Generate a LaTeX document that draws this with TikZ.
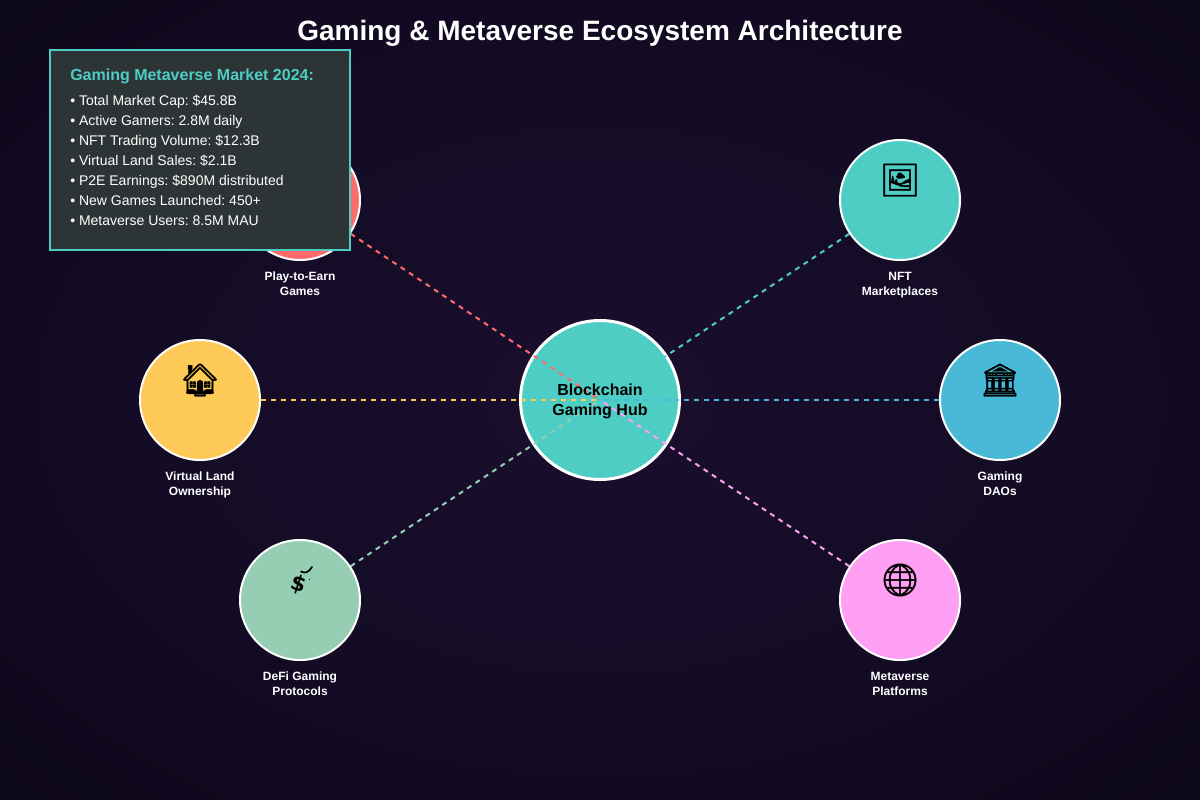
\documentclass[tikz,border=0pt]{standalone}
\usepackage{fontspec}
\setmainfont{Liberation Sans}
\newfontfamily\emojifont[FakeBold=1.5]{Noto Emoji}
\newfontfamily\dollarfont{DejaVu Sans Bold}
\usetikzlibrary{positioning}
\definecolor{mvbgin}{HTML}{1A0F2E}
\definecolor{mvbgout}{HTML}{05020E}
\definecolor{mvteal}{HTML}{4ECDC4}
\definecolor{mvred}{HTML}{FF6B6B}
\definecolor{mvyellow}{HTML}{FECA57}
\definecolor{mvblue}{HTML}{48B9D6}
\definecolor{mvgreen}{HTML}{96CEB4}
\definecolor{mvpink}{HTML}{FF9FF3}
\definecolor{mvpanel}{HTML}{2D3436}
\pgfdeclareradialshading{mvglow}{\pgfpoint{0bp}{0bp}}{color(0bp)=(mvbgin); color(25bp)=(mvbgin!62!mvbgout); color(50bp)=(mvbgout); color(100bp)=(mvbgout)}

\begin{document}
\begin{tikzpicture}[x=0.75pt, y=-0.75pt,
  hubnode/.style={circle, draw=white, line width=2.25pt, fill=mvteal, minimum size=119.25pt},
  ecosys/.style={circle, draw=white, line width=1.5pt, minimum size=90pt},
  icon/.style={font=\emojifont\fontsize{24}{24}\selectfont, text=black, inner sep=0pt},
  caption/.style={font=\fontsize{9}{11.25}\selectfont\bfseries, text=white, align=center, inner sep=0pt},
  link/.style={line width=1.5pt, dash pattern=on 3.75pt off 3.75pt},
]
  \path[use as bounding box, shading=mvglow] (0,0) rectangle (1200,800);

  \node[font=\fontsize{21}{25}\selectfont\bfseries, text=white] (title) at (600,33) {Gaming \& Metaverse Ecosystem Architecture};

  \node[hubnode] (hub) at (600,400) {};

  \node[ecosys, fill=mvred] (p2e) at (300,200) {};
  \node[ecosys, fill=mvteal] (nft) at (900,200) {};
  \node[ecosys, fill=mvyellow] (land) at (200,400) {};
  \node[ecosys, fill=mvblue] (dao) at (1000,400) {};
  \node[ecosys, fill=mvgreen] (defi) at (300,600) {};
  \node[ecosys, fill=mvpink] (meta) at (900,600) {};

  \draw[link, mvred] (p2e) -- (hub.center);
  \draw[link, mvteal] (nft) -- (hub.center);
  \draw[link, mvyellow] (land) -- (hub.center);
  \draw[link, mvblue] (dao) -- (hub.center);
  \draw[link, mvgreen] (defi) -- (hub.center);
  \draw[link, mvpink] (meta) -- (hub.center);

  \node[font=\fontsize{12}{15}\selectfont\bfseries, text=black, align=center] (hubname) at (600,401) {Blockchain\\Gaming Hub};

  \node[icon] (nfticon) at (900,180) {🖼};
  \node[icon] (landicon) at (200,380) {🏠};
  \node[icon] (daoicon) at (1000,380) {🏛};
  \node[font=\dollarfont\fontsize{16}{16}\selectfont, text=black, inner sep=0pt, rotate=-18] (deficon) at (299,585) {\$};
  \draw[line width=1.3pt, line cap=round] (301,571.5) .. controls (305,574) and (309,572) .. (312,567);
  \fill (309.5,579.5) circle (0.7);
  \node[icon] (metaicon) at (900,580) {🌐};

  \node[caption, below=8.25pt of p2e] (p2ename) {Play-to-Earn\\Games};
  \node[caption, below=8.25pt of nft] (nftname) {NFT\\Marketplaces};
  \node[caption, below=8.25pt of land] (landname) {Virtual Land\\Ownership};
  \node[caption, below=8.25pt of dao] (daoname) {Gaming\\DAOs};
  \node[caption, below=8.25pt of defi] (definame) {DeFi Gaming\\Protocols};
  \node[caption, below=8.25pt of meta] (metaname) {Metaverse\\Platforms};

  \node[draw=mvteal, fill=mvpanel, line width=1.5pt, minimum width=225pt, minimum height=150pt, inner sep=0pt] (panel) at (200,150) {};
  \node[font=\fontsize{12}{15}\selectfont\bfseries, text=mvteal, inner sep=0pt, anchor=base west] (paneltitle) at (70,80) {Gaming Metaverse Market 2024:};
  \node[font=\fontsize{10.5}{15}\selectfont\frenchspacing, text=white, align=left, inner sep=0pt, anchor=north west] (panelbody) at (70,95) {%
    • Total Market Cap: \$45.8B\\
    • Active Gamers: 2.8M daily\\
    • NFT Trading Volume: \$12.3B\\
    • Virtual Land Sales: \$2.1B\\
    • P2E Earnings: \$890M distributed\\
    • New Games Launched: 450+\\
    • Metaverse Users: 8.5M MAU};
\end{tikzpicture}
\end{document}
